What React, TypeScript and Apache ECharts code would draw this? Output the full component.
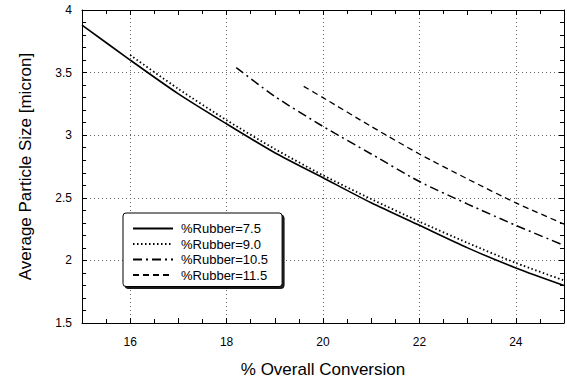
import React, { useEffect, useRef } from "react";
import * as echarts from "echarts";

const seriesNames = ["%Rubber=7.5", "%Rubber=9.0", "%Rubber=10.5", "%Rubber=11.5"];

const rubber75X = [15, 16, 17, 18, 19, 20, 21, 22, 23, 24, 25];
const rubber75Y = [3.88, 3.6, 3.33, 3.09, 2.86, 2.66, 2.46, 2.28, 2.1, 1.94, 1.8];

const rubber90X = [16, 17, 18, 19, 20, 21, 22, 23, 24, 25];
const rubber90Y = [3.64, 3.37, 3.12, 2.89, 2.68, 2.49, 2.31, 2.14, 1.98, 1.84];

const rubber105X = [18.2, 19, 20, 21, 22, 23, 24, 25];
const rubber105Y = [3.54, 3.31, 3.07, 2.85, 2.63, 2.45, 2.28, 2.12];

const rubber115X = [19.6, 20, 21, 22, 23, 24, 25];
const rubber115Y = [3.39, 3.3, 3.07, 2.85, 2.65, 2.46, 2.29];

const xTitle = "% Overall Conversion";
const yTitle = "Average Particle Size [micron]";

const zip = (xs: number[], ys: number[]) => xs.map((x, i) => [x, ys[i]]);

const FONT = "Liberation Sans";

export default function App() {
  const ref = useRef<HTMLDivElement>(null);
  useEffect(() => {
    if (!ref.current) return;
    const chart = echarts.init(ref.current, null, { renderer: "svg" });
    const dotted = { type: [1, 3] as any, color: "#666", width: 1 };
    const lineStyles = [
      { type: "solid", width: 1.6, color: "#000" },
      { type: [1.5, 2.5], width: 1.8, color: "#000" },
      { type: [9, 4, 2, 4], width: 1.5, color: "#000" },
      { type: [6, 4], width: 1.3, color: "#000" },
    ];
    const datas = [
      zip(rubber75X, rubber75Y),
      zip(rubber90X, rubber90Y),
      zip(rubber105X, rubber105Y),
      zip(rubber115X, rubber115Y),
    ];
    const axisLine = { show: true, onZero: false, lineStyle: { color: "#000", width: 1 } };
    chart.setOption({
      animation: false,
      backgroundColor: "#fff",
      grid: { left: 82, right: 1, top: 10, bottom: 57 },
      legend: {
        orient: "vertical",
        left: 123,
        top: 213,
        padding: [9, 14, 5, 9],
        itemGap: 2.5,
        itemWidth: 40,
        itemHeight: 14,
        backgroundColor: "#fff",
        borderColor: "#000",
        borderWidth: 1,
        borderRadius: 3,
        shadowColor: "rgba(0,0,0,0.9)",
        shadowBlur: 1,
        shadowOffsetX: 2,
        shadowOffsetY: 2,
        itemStyle: { color: "transparent", borderWidth: 0, opacity: 0 },
        textStyle: { fontFamily: FONT, fontSize: 13, color: "#000", padding: [0, 0, 0, 3] },
        data: seriesNames,
      },
      xAxis: [
        {
          type: "value",
          position: "bottom",
          min: 15,
          max: 25,
          interval: 1,
          name: xTitle,
          nameLocation: "middle",
          nameGap: 38,
          nameTextStyle: { fontFamily: FONT, fontSize: 17, color: "#000" },
          axisLine,
          axisTick: { show: true, inside: true, length: 5, lineStyle: { color: "#000" } },
          minorTick: { show: true, splitNumber: 2, length: 4, lineStyle: { color: "#000" } },
          axisLabel: {
            fontFamily: FONT,
            fontSize: 12,
            color: "#000",
            margin: 13,
            formatter: (v: number) => (v % 2 === 0 ? String(v) : ""),
          },
          splitLine: {
            show: true,
            lineStyle: { type: [1, 3], width: 1, color: ["transparent", "#666"] },
          },
        },
        {
          type: "value",
          position: "top",
          min: 15,
          max: 25,
          interval: 1,
          axisLine,
          axisTick: { show: true, inside: true, length: 5, lineStyle: { color: "#000" } },
          minorTick: { show: true, splitNumber: 2, length: 4, lineStyle: { color: "#000" } },
          axisLabel: { show: false },
          splitLine: { show: false },
        },
      ],
      yAxis: [
        {
          type: "value",
          position: "left",
          min: 1.5,
          max: 4,
          interval: 0.5,
          name: yTitle,
          nameLocation: "middle",
          nameGap: 48,
          nameTextStyle: { fontFamily: FONT, fontSize: 17, color: "#000" },
          axisLine,
          axisTick: { show: true, inside: true, length: 5, lineStyle: { color: "#000" } },
          minorTick: { show: true, splitNumber: 5, length: 4, lineStyle: { color: "#000" } },
          axisLabel: { fontFamily: FONT, fontSize: 12, color: "#000", margin: 10 },
          splitLine: { show: true, lineStyle: dotted },
        },
        {
          type: "value",
          position: "right",
          min: 1.5,
          max: 4,
          interval: 0.5,
          axisLine,
          axisTick: { show: true, inside: true, length: 5, lineStyle: { color: "#000" } },
          minorTick: { show: true, splitNumber: 5, length: 4, lineStyle: { color: "#000" } },
          axisLabel: { show: false },
          splitLine: { show: false },
        },
      ],
      series: seriesNames.map((name, i) => ({
        name,
        type: "line",
        xAxisIndex: 0,
        yAxisIndex: 0,
        data: datas[i],
        smooth: 0.25,
        symbol: "none",
        showSymbol: false,
        color: "#000",
        lineStyle: lineStyles[i],
      })),
    });
    return () => chart.dispose();
  }, []);
  return <div ref={ref} style={{ width: 567, height: 383, position: "absolute", left: 0, top: 0 }} />;
}
